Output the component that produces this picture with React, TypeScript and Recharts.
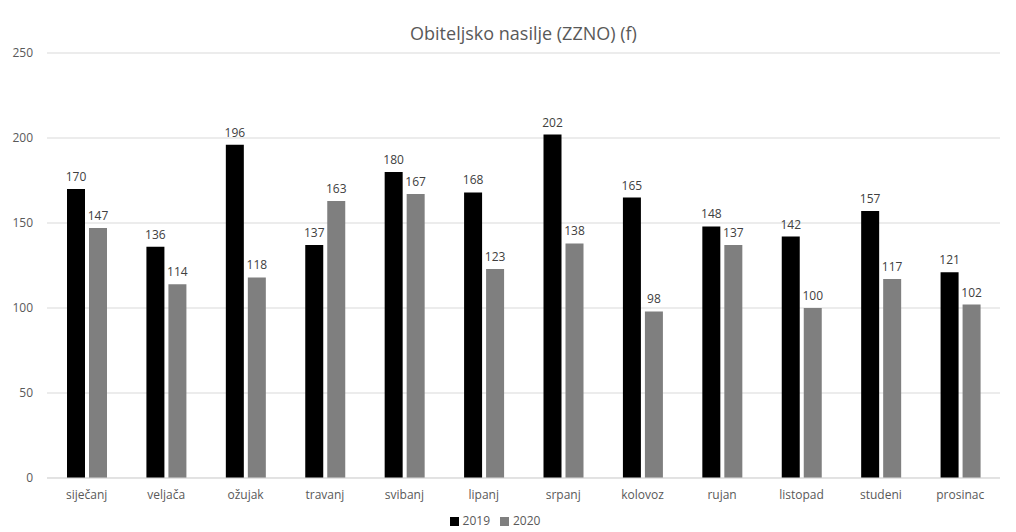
import React from "react";
import { BarChart, Bar, XAxis, YAxis, CartesianGrid, Legend, LabelList } from "recharts";

const months = [
  "siječanj",
  "veljača",
  "ožujak",
  "travanj",
  "svibanj",
  "lipanj",
  "srpanj",
  "kolovoz",
  "rujan",
  "listopad",
  "studeni",
  "prosinac",
];
const values2019 = [170, 136, 196, 137, 180, 168, 202, 165, 148, 142, 157, 121];
const values2020 = [147, 114, 118, 163, 167, 123, 138, 98, 137, 100, 117, 102];
const yTicks = [0, 50, 100, 150, 200, 250];

const FONT = "'Open Sans', 'Noto Sans', sans-serif";

export default function App() {
  const data = months.map((m, i) => ({
    month: m,
    y2019: values2019[i],
    y2020: values2020[i],
  }));

  return (
    <div style={{ position: "absolute", left: 0, top: 0, width: 1016, height: 532, background: "#fff", fontFamily: FONT }}>
      <div
        style={{
          position: "absolute",
          top: 20,
          left: 47,
          width: 953,
          textAlign: "center",
          fontSize: 18,
          color: "#595959",
          lineHeight: "26px",
        }}
      >
        Obiteljsko nasilje (ZZNO) (f)
      </div>
      <BarChart
        width={1016}
        height={532}
        data={data}
        margin={{ top: 53, right: 16, left: 0, bottom: 0 }}
        barGap={4}
        barSize={18}
      >
        <CartesianGrid vertical={false} stroke="#d9d9d9" />
        <XAxis
          dataKey="month"
          axisLine={{ stroke: "#d9d9d9" }}
          tickLine={false}
          height={16}
          tickMargin={6}
          tick={{ fontSize: 12, fill: "#595959", fontFamily: FONT }}
          interval={0}
        />
        <YAxis
          domain={[0, 250]}
          ticks={yTicks}
          width={47}
          axisLine={false}
          tickLine={false}
          tickSize={0}
          tickMargin={14}
          tick={{ fontSize: 12, fill: "#595959", fontFamily: FONT }}
        />
        <Legend
          verticalAlign="bottom"
          height={30}
          iconType="square"
          iconSize={9}
          wrapperStyle={{ fontSize: 12, fontFamily: FONT, paddingTop: 8, bottom: -10 }}
          formatter={(value) => <span style={{ color: "#595959" }}>{value}</span>}
        />
        <Bar dataKey="y2019" name="2019" fill="#000000" isAnimationActive={false}>
          <LabelList dataKey="y2019" position="top" offset={8} style={{ fontSize: 12, fill: "#404040", fontFamily: FONT }} />
        </Bar>
        <Bar dataKey="y2020" name="2020" fill="#7f7f7f" isAnimationActive={false}>
          <LabelList dataKey="y2020" position="top" offset={8} style={{ fontSize: 12, fill: "#404040", fontFamily: FONT }} />
        </Bar>
      </BarChart>
    </div>
  );
}
